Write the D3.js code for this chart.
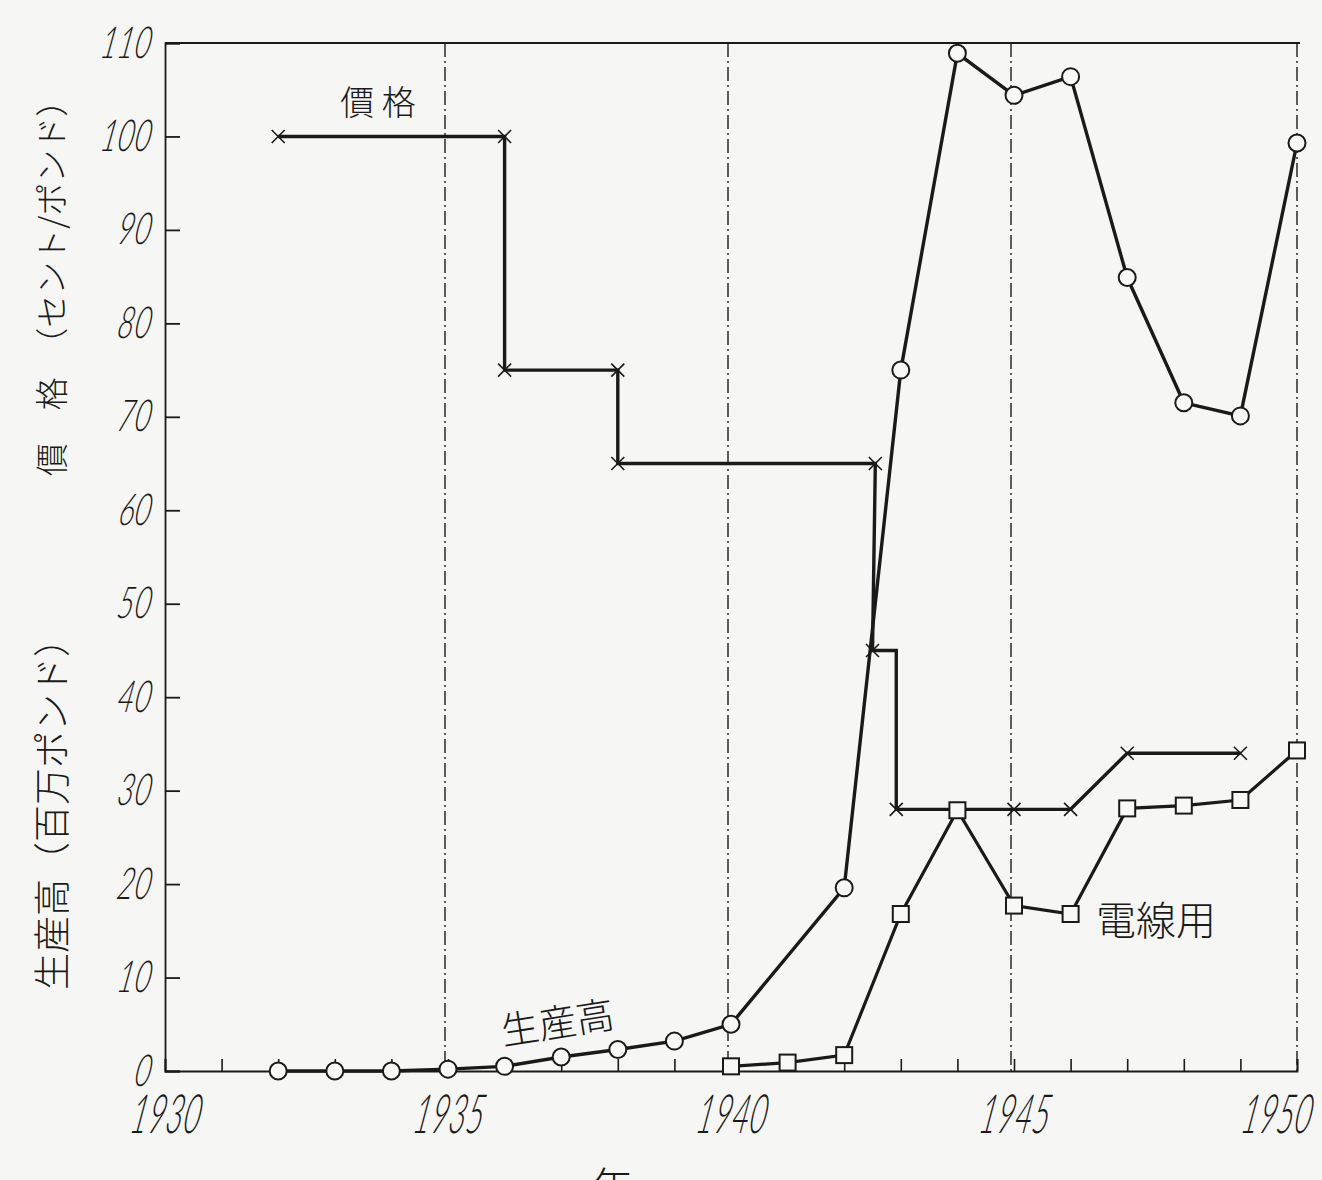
<!DOCTYPE html>
<html>
<head>
<meta charset="utf-8">
<script src="https://cdn.jsdelivr.net/npm/d3@7"></script>
<style>
  body { margin: 0; background: #f6f6f4; }
  svg { display: block; }
</style>
</head>
<body>
<div id="chart"></div>
<script>
// production (百万ポンド), circles
const prodYears = [1932, 1933, 1934, 1935, 1936, 1937, 1938, 1939, 1940, 1942, 1943, 1944, 1945, 1946, 1947, 1948, 1949, 1950];
const prodValues = [0, 0, 0, 0.2, 0.5, 1.5, 2.3, 3.2, 5.0, 19.6, 75.0, 108.9, 104.4, 106.4, 84.9, 71.5, 70.1, 99.3];

// wire use, squares
const wireYears = [1940, 1941, 1942, 1943, 1944, 1945, 1946, 1947, 1948, 1949, 1950];
const wireValues = [0.5, 0.9, 1.7, 16.8, 27.9, 17.7, 16.8, 28.1, 28.4, 29.0, 34.3];

// price (セント/ポンド), stepped line and its cross marks
const priceLineYears = [1932, 1936, 1936, 1938, 1938, 1942.55, 1942.5, 1942.92, 1942.92, 1945, 1946, 1947, 1949];
const priceLineValues = [100, 100, 75, 75, 65, 65, 45, 45, 28, 28, 28, 34, 34];
const priceMarkYears = [1932, 1936, 1936, 1938, 1938, 1942.55, 1942.5, 1942.92, 1945, 1946, 1947, 1949];
const priceMarkValues = [100, 100, 75, 75, 65, 65, 45, 28, 28, 28, 34, 34];

const yTicks = [0, 10, 20, 30, 40, 50, 60, 70, 80, 90, 100, 110];
const xLabelYears = [1930, 1935, 1940, 1945, 1950];
const gridYears = [1935, 1940, 1945];

const ink = "#1a1a1a";
const numFont = "Lato, Roboto, sans-serif";
const jpFont = "'Noto Sans CJK JP', 'Noto Sans CJK SC', sans-serif";

const fullWidth = 1322;
const fullHeight = 1180;

const svg = d3
  .select("#chart")
  .append("svg")
  .attr("width", fullWidth)
  .attr("height", fullHeight);

svg.append("rect")
  .attr("width", fullWidth)
  .attr("height", fullHeight)
  .attr("fill", "#f6f6f4");

const x = d3.scaleLinear().domain([1930, 1950]).range([165, 1297]);
const y = d3.scaleLinear().domain([0, 110]).range([1071, 43]);

// vertical dash-dot grid
svg.append("g")
  .selectAll("line")
  .data(gridYears)
  .join("line")
  .attr("x1", d => x(d) - 3)
  .attr("x2", d => x(d) - 3)
  .attr("y1", y(110))
  .attr("y2", y(0))
  .attr("stroke", ink)
  .attr("stroke-width", 1.4)
  .attr("stroke-dasharray", "14,4,2,4");

// frame: top solid, right dashed
svg.append("line")
  .attr("x1", x(1930)).attr("x2", x(1950) + 3)
  .attr("y1", y(110)).attr("y2", y(110))
  .attr("stroke", ink).attr("stroke-width", 1.8);
svg.append("line")
  .attr("x1", x(1950)).attr("x2", x(1950))
  .attr("y1", y(110)).attr("y2", y(0))
  .attr("stroke", ink).attr("stroke-width", 1.4)
  .attr("stroke-dasharray", "14,4,2,4");

// y axis
const ySx = 0.66;
const yAxis = d3.axisLeft(y).tickValues(yTicks).tickSize(-15).tickPadding(15);
const gy = svg.append("g").attr("transform", `translate(${x(1930)},0)`).call(yAxis);
gy.select(".domain").attr("stroke", ink).attr("stroke-width", 1.8);
gy.selectAll(".tick line").attr("stroke", ink).attr("stroke-width", 1.8);
gy.selectAll(".tick text")
  .attr("fill", ink)
  .attr("font-family", numFont)
  .attr("font-style", "italic")
  .attr("font-weight", 300)
  .attr("font-size", 44)
  .attr("x", -13 / ySx)
  .attr("transform", `skewX(-11) scale(${ySx},1)`);

// x axis, a tick every year, labels every five
const xSx = 0.56;
const xAxis = d3.axisBottom(x)
  .ticks(20)
  .tickSize(-12)
  .tickPadding(24)
  .tickFormat(d => (xLabelYears.includes(d) ? d : ""));
const gx = svg.append("g").attr("transform", `translate(0,${y(0)})`).call(xAxis);
gx.select(".domain").attr("stroke", ink).attr("stroke-width", 1.8);
gx.selectAll(".tick line").attr("stroke", ink).attr("stroke-width", 1.6);
gx.selectAll(".tick text")
  .attr("fill", ink)
  .attr("font-family", numFont)
  .attr("font-style", "italic")
  .attr("font-weight", 300)
  .attr("font-size", 54)
  .attr("x", d => (d === 1950 ? -11 : 10) / xSx)
  .attr("transform", `skewX(-11) scale(${xSx},1)`);

// lines
const line = d3.line().x(d => x(d[0])).y(d => y(d[1]));
const zip = (a, b) => a.map((v, i) => [v, b[i]]);

const priceLine = zip(priceLineYears, priceLineValues);
const prodLine = zip(prodYears, prodValues);
const wireLine = zip(wireYears, wireValues);

svg.append("path")
  .datum(priceLine)
  .attr("d", line)
  .attr("fill", "none")
  .attr("stroke", ink)
  .attr("stroke-width", 3.4);

svg.append("path")
  .datum(prodLine)
  .attr("d", line)
  .attr("fill", "none")
  .attr("stroke", ink)
  .attr("stroke-width", 3.4);

svg.append("path")
  .datum(wireLine)
  .attr("d", line)
  .attr("fill", "none")
  .attr("stroke", ink)
  .attr("stroke-width", 3.2);

// markers
const s = 6.5;
svg.append("g")
  .selectAll("path")
  .data(zip(priceMarkYears, priceMarkValues))
  .join("path")
  .attr("d", d => {
    const cx = x(d[0]), cy = y(d[1]);
    return `M${cx - s},${cy - s}L${cx + s},${cy + s}M${cx - s},${cy + s}L${cx + s},${cy - s}`;
  })
  .attr("stroke", ink)
  .attr("stroke-width", 1.6);

svg.append("g")
  .selectAll("rect")
  .data(wireLine)
  .join("rect")
  .attr("x", d => x(d[0]) - 8)
  .attr("y", d => y(d[1]) - 8)
  .attr("width", 16)
  .attr("height", 16)
  .attr("fill", "#f8f8f6")
  .attr("stroke", ink)
  .attr("stroke-width", 2);

svg.append("g")
  .selectAll("circle")
  .data(prodLine)
  .join("circle")
  .attr("cx", d => x(d[0]))
  .attr("cy", d => y(d[1]))
  .attr("r", 8.5)
  .attr("fill", "#f8f8f6")
  .attr("stroke", ink)
  .attr("stroke-width", 2);

// labels
const jp = (txt, px, py, size, rot) =>
  svg.append("text")
    .attr("transform", `translate(${px},${py}) rotate(${rot || 0})`)
    .attr("text-anchor", "middle")
    .attr("dominant-baseline", "central")
    .attr("font-family", jpFont)
    .attr("font-weight", 300)
    .attr("font-size", size)
    .attr("fill", ink)
    .text(txt);

jp("價 格", 378, 100, 34);
jp("生産高", 557, 1020, 38, -9);
jp("電線用", 1156, 918, 40);
jp("價　格　（セント/ポンド）", 50, 280, 33, -90);
jp("生産高（百万ポンド）", 50, 805, 37, -90);
jp("年", 612, 1184, 42);
</script>
</body>
</html>
